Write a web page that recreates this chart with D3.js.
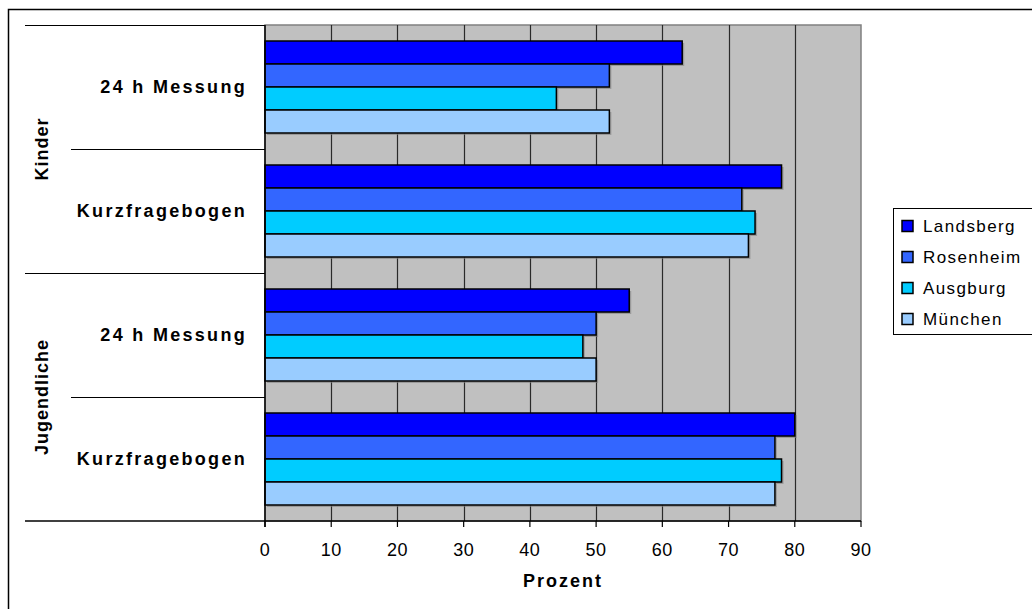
<!DOCTYPE html>
<html>
<head>
<meta charset="utf-8">
<script src="https://cdn.jsdelivr.net/npm/d3@7"></script>
<style>
  body { margin: 0; background: #fff; }
  svg text { font-family: "Liberation Sans", Arial, sans-serif; fill: #000; }
</style>
</head>
<body>
<svg width="1032" height="609"></svg>
<script>
    // chart data
    const categories = ['24 h Messung', 'Kurzfragebogen', '24 h Messung', 'Kurzfragebogen'];
    const groupNames = ['Kinder', 'Jugendliche'];
    const seriesNames = ['Landsberg', 'Rosenheim', 'Ausgburg', 'München'];
    const landsberg = [63, 78, 55, 80];
    const rosenheim = [52, 72, 50, 77];
    const augsburg = [44, 74, 48, 78];
    const muenchen = [52, 73, 50, 77];
    const seriesColors = ['#0000ff', '#3366ff', '#00ccff', '#99ccff'];
    const xTicks = [0, 10, 20, 30, 40, 50, 60, 70, 80, 90];
    const xTitle = 'Prozent';

    const seriesValues = [landsberg, rosenheim, augsburg, muenchen];

    const svg = d3.select('svg');
    const plot = {left: 265, right: 861, top: 25, bottom: 521};

    // outer chart frame (only top and left visible)
    svg.append('rect')
        .attr('x', 8.5).attr('y', 9.5)
        .attr('width', 1100).attr('height', 700)
        .attr('fill', 'none')
        .attr('stroke', '#000')
        .attr('stroke-width', 1.5);

    const x = d3.scaleLinear().domain([0, 90]).range([plot.left, plot.right]);
    const y0 = d3.scaleBand().domain(d3.range(categories.length)).range([plot.top, plot.bottom]);
    const y1 = d3.scaleBand().domain(seriesNames)
        .range([16, y0.bandwidth() - 16]);

    // plot background
    svg.append('rect')
        .attr('x', plot.left).attr('y', plot.top)
        .attr('width', plot.right - plot.left).attr('height', plot.bottom - plot.top)
        .attr('fill', '#c0c0c0')
        .attr('stroke', '#808080')
        .attr('stroke-width', 1.5);

    // vertical gridlines
    svg.append('g').selectAll('line')
        .data(xTicks.filter(d => d > 0 && d < 90))
        .join('line')
        .attr('x1', d => Math.round(x(d)) + 0.5).attr('x2', d => Math.round(x(d)) + 0.5)
        .attr('y1', plot.top).attr('y2', plot.bottom)
        .attr('stroke', '#2a2a2a')
        .attr('stroke-width', 1.2);

    // bars
    const barData = [];
    categories.forEach((c, i) => {
        seriesNames.forEach((s, j) => {
            barData.push({cat: i, series: s, color: seriesColors[j], value: seriesValues[j][i]});
        });
    });

    const bars = svg.append('g');
    bars.selectAll('rect.shadow')
        .data(barData)
        .join('rect')
        .attr('class', 'shadow')
        .attr('x', x(0) + 2)
        .attr('y', d => y0(d.cat) + y1(d.series) + 2)
        .attr('width', d => x(d.value) - x(0))
        .attr('height', y1.bandwidth())
        .attr('fill', '#808080')
        .attr('opacity', 0.6);

    bars.selectAll('rect.bar')
        .data(barData)
        .join('rect')
        .attr('class', 'bar')
        .attr('x', x(0))
        .attr('y', d => y0(d.cat) + y1(d.series))
        .attr('width', d => x(d.value) - x(0))
        .attr('height', y1.bandwidth())
        .attr('fill', d => d.color)
        .attr('stroke', '#000')
        .attr('stroke-width', 1.5);

    // axes lines
    svg.append('line')
        .attr('x1', plot.left).attr('x2', plot.left)
        .attr('y1', plot.top).attr('y2', plot.bottom + 6)
        .attr('stroke', '#000').attr('stroke-width', 1.5);

    svg.append('line')
        .attr('x1', 25).attr('x2', plot.right)
        .attr('y1', plot.bottom).attr('y2', plot.bottom)
        .attr('stroke', '#000').attr('stroke-width', 1.5);

    // category separators on the left
    d3.range(categories.length).forEach(i => {
        const yy = y0(i) + 0.5;
        svg.append('line')
            .attr('x1', i % 2 === 0 ? 25 : 71).attr('x2', plot.left)
            .attr('y1', yy).attr('y2', yy)
            .attr('stroke', '#000').attr('stroke-width', 1.2);
    });

    // x ticks
    svg.append('g').selectAll('line')
        .data(xTicks)
        .join('line')
        .attr('x1', d => x(d)).attr('x2', d => x(d))
        .attr('y1', plot.bottom).attr('y2', plot.bottom + 6)
        .attr('stroke', '#000').attr('stroke-width', 1.2);

    svg.append('g').selectAll('text')
        .data(xTicks)
        .join('text')
        .attr('x', d => x(d))
        .attr('y', 550)
        .attr('dy', '0.35em')
        .attr('text-anchor', 'middle')
        .style('font-size', '18px')
        .style('letter-spacing', '0.5px')
        .text(d => d);

    svg.append('text')
        .attr('x', (plot.left + plot.right) / 2)
        .attr('y', 581)
        .attr('dy', '0.35em')
        .attr('text-anchor', 'middle')
        .style('font-size', '18px')
        .style('font-weight', 'bold')
        .style('letter-spacing', '2px')
        .text(xTitle);

    // category labels
    svg.append('g').selectAll('text')
        .data(categories)
        .join('text')
        .attr('x', 247)
        .attr('y', (d, i) => y0(i) + y0.bandwidth() / 2)
        .attr('dy', '0.35em')
        .attr('text-anchor', 'end')
        .style('font-size', '18px')
        .style('font-weight', 'bold')
        .style('letter-spacing', '2.3px')
        .text(d => d);

    // group labels
    svg.append('g').selectAll('text')
        .data(groupNames)
        .join('text')
        .attr('transform', (d, i) => `translate(42,${y0(i * 2) + y0.bandwidth()}) rotate(-90)`)
        .attr('dy', '0.35em')
        .attr('text-anchor', 'middle')
        .style('font-size', '18px')
        .style('font-weight', 'bold')
        .style('letter-spacing', '1px')
        .text(d => d);

    // legend
    const legend = svg.append('g').attr('transform', 'translate(893,208)');
    legend.append('rect')
        .attr('x', 0.5).attr('y', 0.5)
        .attr('width', 200).attr('height', 126)
        .attr('fill', '#fff')
        .attr('stroke', '#000').attr('stroke-width', 1);

    const items = legend.selectAll('g.item')
        .data(seriesNames)
        .join('g')
        .attr('class', 'item')
        .attr('transform', (d, i) => `translate(0,${18 + i * 31})`);

    items.append('rect')
        .attr('x', 9).attr('y', -5.5)
        .attr('width', 11).attr('height', 11)
        .attr('fill', (d, i) => seriesColors[i])
        .attr('stroke', '#000').attr('stroke-width', 1.5);

    items.append('text')
        .attr('x', 30)
        .attr('dy', '0.35em')
        .style('font-size', '17px')
        .style('letter-spacing', '1.4px')
        .text(d => d);
</script>
</body>
</html>
